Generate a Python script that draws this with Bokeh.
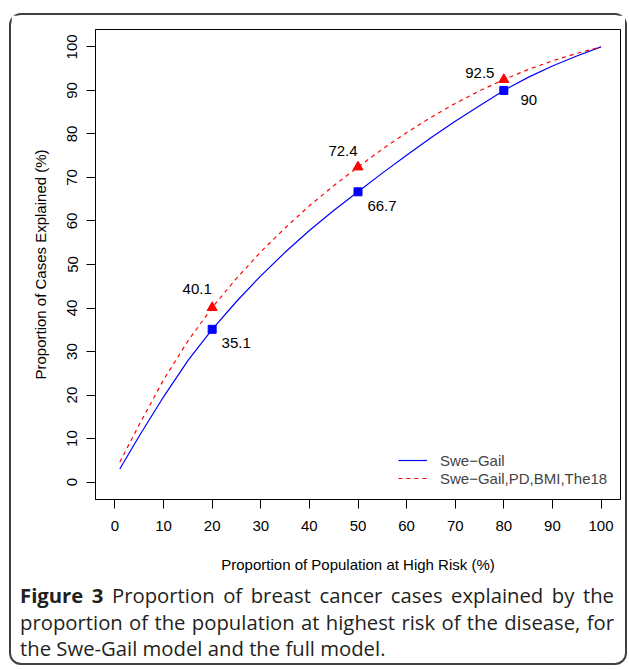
from bokeh.plotting import figure
from bokeh.models import ColumnDataSource, FixedTicker, Legend, LegendItem, Div
from bokeh.layouts import column
from bokeh.core.properties import value
from bokeh.embed import file_html
from bokeh.resources import INLINE

# ---- data ----
population = [1, 5, 10, 15, 20, 25, 30, 35, 40, 45, 50, 55, 60, 65, 70, 75, 80, 85, 90, 95, 100]
swe_gail = [3.0, 10.6, 19.6, 27.9, 35.1, 41.5, 47.4, 52.8, 57.8, 62.4, 66.7, 71.0, 75.1, 79.1, 82.9,
            86.5, 90.0, 93.0, 95.6, 97.9, 100.0]
full_model = [4.6, 13.2, 23.5, 32.4, 40.1, 46.8, 52.9, 58.4, 63.5, 68.1, 72.4, 76.5, 80.3, 83.8, 87.0,
              89.9, 92.5, 94.8, 96.8, 98.5, 100.0]

marker_x = [20, 50, 80]
swe_gail_pts = [35.1, 66.7, 90.0]
full_model_pts = [40.1, 72.4, 92.5]

series_names = ["Swe\u2212Gail", "Swe\u2212Gail,PD,BMI,The18"]
x_ticks = [0, 10, 20, 30, 40, 50, 60, 70, 80, 90, 100]
y_ticks = [0, 10, 20, 30, 40, 50, 60, 70, 80, 90, 100]
x_title = "Proportion of Population at High Risk (%)"
y_title = "Proportion of Cases Explained (%)"
caption_lines = ["Proportion of breast cancer cases explained by the",
                 "proportion of the population at highest risk of the disease, for",
                 "the Swe-Gail model and the full model."]
caption_head = "Figure 3"

FONT = "Liberation Sans"
FS = "15px"

p = figure(frame_width=525, frame_height=470, x_range=(-4, 104), y_range=(-4, 104),
           output_backend="svg", toolbar_location=None,
           min_border_left=84, min_border_right=5, min_border_top=14, min_border_bottom=81,
           background_fill_color="white", border_fill_color="white")
p.grid.visible = False
p.outline_line_color = "black"
p.outline_line_width = 1

p.xaxis.ticker = FixedTicker(ticks=x_ticks)
p.yaxis.ticker = FixedTicker(ticks=y_ticks)
for ax in (p.xaxis, p.yaxis):
    ax.minor_tick_line_color = None
    ax.major_tick_in = 0
    ax.major_tick_out = 9
    ax.major_tick_line_color = "black"
    ax.axis_line_color = "black"
    ax.major_label_text_font = FONT
    ax.major_label_text_font_size = FS
    ax.major_label_text_color = "black"
    ax.axis_label_text_font = FONT
    ax.axis_label_text_font_size = FS
    ax.axis_label_text_font_style = "normal"
    ax.axis_label_text_color = "black"
p.xaxis.axis_label = x_title
p.yaxis.axis_label = y_title
p.yaxis.major_label_orientation = "vertical"
p.xaxis.major_label_standoff = 12
p.yaxis.major_label_standoff = 9
p.xaxis.axis_label_standoff = 22
p.yaxis.axis_label_standoff = 16

r1 = p.line(population, swe_gail, line_color="#0000ff", line_width=1.2)
r2 = p.line(population, full_model, line_color="#ff0000", line_width=1.2, line_dash="4 4")

p.scatter(marker_x, swe_gail_pts, marker="square", size=8, color="#0000ff")
p.scatter(marker_x, full_model_pts, marker="triangle", size=10, color="#ff0000")

lab_blue = ColumnDataSource(dict(x=marker_x, y=swe_gail_pts, t=[f"{v:g}" for v in swe_gail_pts],
                                 dx=[24, 24, 25], dy=[14, 14, 10]))
lab_red = ColumnDataSource(dict(x=marker_x, y=full_model_pts, t=[f"{v:g}" for v in full_model_pts],
                                dx=[-15, -15, -24], dy=[-19, -16, -7]))
for src in (lab_blue, lab_red):
    p.text(x="x", y="y", text="t", x_offset="dx", y_offset="dy", source=src,
           text_align="center", text_baseline="middle", text_color="black",
           text_font=value(FONT), text_font_size=FS)

legend = Legend(items=[LegendItem(label=series_names[0], renderers=[r1]),
                       LegendItem(label=series_names[1], renderers=[r2])],
                location=(303, 12), border_line_color=None, background_fill_alpha=0,
                glyph_width=29, glyph_height=18, label_height=18, label_standoff=13,
                spacing=0, padding=0, margin=0,
                label_text_font=FONT, label_text_font_size=FS)
p.add_layout(legend)

just = "text-align:justify;text-align-last:justify;white-space:nowrap;"
caption = (
    "<div style=\"font-family:'Open Sans';font-size:20.3px;line-height:26.5px;color:#231f20;"
    "width:594px;padding:2px 11px 0 9px;\">"
    f"<div style='{just}'><b>{caption_head}</b> {caption_lines[0]}</div>"
    f"<div style='{just}'>{caption_lines[1]}</div>"
    f"<div style='white-space:nowrap;'>{caption_lines[2]}</div></div>"
)
div = Div(text=caption, width=614, height=83, margin=0)

layout = column(p, div, spacing=0,
                styles={"position": "absolute", "left": "9px", "top": "13px",
                        "border": "2px solid #404040", "border-radius": "12px",
                        "box-sizing": "content-box"})

open("out.html", "w").write(file_html(layout, INLINE))
